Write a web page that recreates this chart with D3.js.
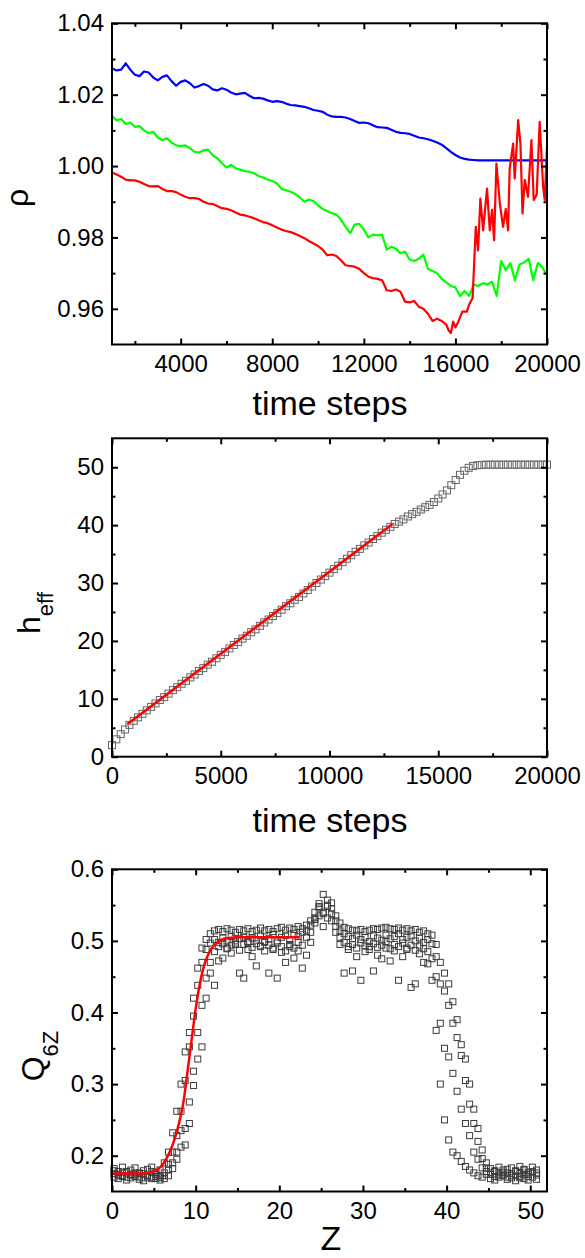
<!DOCTYPE html>
<html>
<head>
<meta charset="utf-8">
<script src="https://cdn.jsdelivr.net/npm/d3@7"></script>
<style>
  body { margin: 0; background: #fff; }
</style>
</head>
<body>
<svg id="chart" width="585" height="1258"></svg>
<script>
// ---- panel 1: density vs time steps ----
const tSteps = [1000,1200,1400,1600,1800,2000,2200,2400,2600,2800,3000,3200,3400,3600,3800,4000,4200,4400,4600,4800,
  5000,5200,5400,5600,5800,6000,6200,6400,6600,6800,7000,7200,7400,7600,7800,8000,8200,8400,8600,8800,
  9000,9200,9400,9600,9800,10000,10200,10400,10600,10800,11000,11200,11400,11600,11800,12000,12200,12400,12600,12800,
  13000,13200,13400,13600,13800,14000,14200,14400,14600,14800,15000,15200,15400,15600,15800,16000,16200,16400,16600,16800,
  17000,17200,17400,17600,17800,18000,18200,18400,18600,18800,19000,19200,19400,19600,19800,20000];

const rhoBlue = [1.0274,1.0268,1.0270,1.0288,1.0270,1.0256,1.0252,1.0265,1.0262,1.0248,
  1.0240,1.0250,1.0254,1.0238,1.0225,1.0236,1.0240,1.0232,1.0220,1.0224,
  1.0230,1.0225,1.0215,1.0212,1.0218,1.0214,1.0206,1.0201,1.0203,1.0205,
  1.0197,1.0190,1.0191,1.0189,1.0184,1.0180,1.0182,1.0180,1.0175,1.0171,
  1.0170,1.0168,1.0166,1.0162,1.0157,1.0155,1.0152,1.0144,1.0139,1.0138,
  1.0138,1.0136,1.0132,1.0126,1.0121,1.0122,1.0120,1.0114,1.0109,1.0108,
  1.0107,1.0102,1.0096,1.0093,1.0092,1.0090,1.0085,1.0080,1.0078,1.0075,
  1.0071,1.0066,1.0060,1.0050,1.0040,1.0031,1.0024,1.0020,1.0018,1.0017,
  1.0016,1.0016,1.0016,1.0016,1.0016,1.0016,1.0016,1.0016,1.0016,1.0016,
  1.0016,1.0016,1.0016,1.0016,1.0016,1.0016];

const rhoGreen = [1.0140,1.0128,1.0132,1.0118,1.0122,1.0110,1.0112,1.0100,1.0092,1.0096,
  1.0080,1.0072,1.0078,1.0066,1.0058,1.0056,1.0058,1.0050,1.0040,1.0038,
  1.0044,1.0046,1.0030,1.0022,1.0008,0.9996,1.0003,0.9994,0.9990,0.9986,
  0.9984,0.9980,0.9972,0.9968,0.9962,0.9958,0.9952,0.9936,0.9932,0.9928,
  0.9922,0.9912,0.9900,0.9906,0.9902,0.9890,0.9880,0.9874,0.9868,0.9864,
  0.9850,0.9830,0.9812,0.9836,0.9838,0.9822,0.9800,0.9808,0.9806,0.9808,
  0.9766,0.9774,0.9768,0.9756,0.9760,0.9738,0.9734,0.9740,0.9752,0.9712,
  0.9706,0.9700,0.9684,0.9674,0.9664,0.9660,0.9636,0.9650,0.9636,0.9668,
  0.9664,0.9672,0.9668,0.9676,0.9636,0.9734,0.9708,0.9728,0.9680,0.9724,
  0.9730,0.9740,0.9680,0.9728,0.9716,0.9694];

// red has a finer, irregular sampling in its noisy tail
const redT = [1000,1200,1400,1600,1800,2000,2200,2400,2600,2800,3000,3200,3400,3600,3800,4000,4200,4400,4600,4800,
  5000,5200,5400,5600,5800,6000,6200,6400,6600,6800,7000,7200,7400,7600,7800,8000,8200,8400,8600,8800,
  9000,9200,9400,9600,9800,10000,10200,10400,10600,10800,11000,11200,11400,11600,11800,12000,12200,12400,12600,12800,
  13000,13200,13400,13600,13800,14000,14200,14400,14600,14800,15000,15200,15400,15600,
  15700,15800,15900,16000,16100,16300,16500,16600,16750,
  16890,16990,17090,17210,17380,17500,17600,17690,17790,17940,18080,18200,18300,18370,18520,18590,
  18740,18840,18930,19030,19170,19320,19420,19550,19680,19830,19900,20000];
const rhoRed = [0.9982,0.9976,0.9970,0.9962,0.9960,0.9960,0.9956,0.9950,0.9944,0.9943,
  0.9944,0.9936,0.9930,0.9930,0.9927,0.9920,0.9914,0.9910,0.9910,0.9908,
  0.9900,0.9895,0.9894,0.9888,0.9882,0.9880,0.9876,0.9870,0.9864,0.9862,
  0.9858,0.9854,0.9848,0.9843,0.9840,0.9834,0.9828,0.9822,0.9818,0.9815,
  0.9810,0.9804,0.9798,0.9790,0.9783,0.9776,0.9766,0.9750,0.9752,0.9748,
  0.9736,0.9722,0.9720,0.9718,0.9712,0.9700,0.9690,0.9686,0.9684,0.9680,
  0.9652,0.9650,0.9654,0.9648,0.9620,0.9618,0.9622,0.9606,0.9600,0.9586,
  0.9566,0.9572,0.9566,0.9556,
  0.9540,0.9532,0.9564,0.9548,0.9560,0.9592,0.9592,0.9612,0.9630,
  0.9830,0.9764,0.9909,0.9820,0.9937,0.9820,0.9877,0.9792,1.0007,0.9895,0.9830,0.9880,0.9820,0.9993,1.0063,0.9965,
  1.0129,1.0063,0.9867,0.9961,0.9914,1.0073,0.9905,0.9920,1.0124,0.9942,0.9905,1.0054];

const rhoXMajor = [4000, 8000, 12000, 16000, 20000];
const rhoXMinor = [2000, 6000, 10000, 14000, 18000];
const rhoYMajor = [0.96, 0.98, 1.00, 1.02, 1.04];
const rhoYMinor = [0.97, 0.99, 1.01, 1.03];

// ---- panel 2: effective height ----
const heffT = [0,200,400,600,800].concat(tSteps);
const heff = [2.0,3.0,3.9,4.7,5.5,
  6.2,6.8,7.4,8.0,8.6,9.2,9.8,10.3,10.9,11.5,
  12.0,12.6,13.1,13.7,14.2,14.8,15.3,15.9,16.4,17.0,
  17.6,18.1,18.7,19.3,19.8,20.4,20.9,21.5,22.0,22.6,
  23.2,23.7,24.3,24.8,25.4,26.0,26.5,27.1,27.6,28.2,
  28.8,29.4,30.0,30.6,31.2,31.8,32.4,33.0,33.6,34.2,
  34.8,35.4,35.9,36.5,37.0,37.6,38.1,38.7,39.2,39.7,
  40.2,40.6,41.0,41.5,41.9,42.3,42.7,43.1,43.5,44.0,
  44.6,45.3,46.0,46.9,47.8,48.7,49.4,49.9,50.2,50.35,
  50.4,50.45,50.45,50.45,50.45,50.45,50.45,50.45,50.45,50.45,50.45,50.45,50.45,50.45,50.45,50.45];
const heffFitT = [700, 12900];
const heffFit = [5.6, 40.2];
const heffXMajor = [0, 5000, 10000, 15000, 20000];
const heffXMinor = [2500, 7500, 12500, 17500];
const heffYMajor = [0, 10, 20, 30, 40, 50];
const heffYMinor = [5, 15, 25, 35, 45];

// ---- panel 3: Q6Z profiles along Z ----
const zGrid = [0.25,0.75,1.25,1.75,2.25,2.75,3.25,3.75,4.25,4.75,5.25,5.75,
  6.25,6.75,7.25,7.75,8.25,8.75,9.25,9.75,10.25,10.75,11.25,11.75,
  12.25,12.75,13.25,13.75,14.25,14.75,15.25,15.75,16.25,16.75,17.25,17.75,18.25,18.75,19.25,19.75,20.25,20.75,21.25,21.75,22.25,22.75,
  23.25,23.75,24.25,24.75,25.25,25.75,26.25,26.75,27.25,
  27.75,28.25,28.75,29.25,29.75,30.25,30.75,31.25,31.75,32.25,32.75,33.25,33.75,34.25,34.75,35.25,35.75,36.25,36.75,37.25,37.75,
  38.25,38.75,39.25,39.75,40.25,40.75,41.25,41.75,42.25,42.75,43.25,43.75,44.25,44.75,
  45.25,45.75,46.25,46.75,47.25,47.75,48.25,48.75,49.25,49.75,50.25,50.75];

const q6zA = [0.182,0.178,0.184,0.176,0.180,0.183,0.175,0.179,0.181,0.184,0.177,0.180,
  0.190,0.205,0.232,0.262,0.300,0.345,0.372,0.420,0.462,0.490,0.502,0.510,
  0.514,0.516,0.513,0.517,0.515,0.512,0.516,0.514,0.517,0.513,0.515,0.518,0.514,0.516,0.513,0.517,0.519,0.515,0.518,0.516,0.520,0.517,
  0.522,0.528,0.540,0.552,0.565,0.557,0.553,0.535,0.525,
  0.519,0.517,0.515,0.514,0.516,0.513,0.515,0.517,0.516,0.518,0.519,0.517,0.516,0.518,0.515,0.517,0.514,0.516,0.512,0.514,0.510,
  0.508,0.495,0.470,0.455,0.440,0.415,0.390,0.355,0.335,0.300,0.265,0.238,0.208,0.190,
  0.182,0.178,0.184,0.180,0.176,0.183,0.179,0.185,0.181,0.177,0.184,0.180];
const q6zB = [0.175,0.172,0.177,0.170,0.174,0.171,0.176,0.169,0.173,0.170,0.168,0.172,
  0.176,0.188,0.205,0.228,0.262,0.305,0.352,0.395,0.438,0.470,0.488,0.497,
  0.502,0.498,0.504,0.500,0.506,0.497,0.503,0.505,0.499,0.504,0.501,0.507,0.498,0.503,0.509,0.500,0.505,0.508,0.502,0.510,0.506,0.512,
  0.515,0.522,0.532,0.546,0.540,0.548,0.538,0.528,0.514,
  0.510,0.506,0.503,0.508,0.502,0.505,0.499,0.507,0.504,0.501,0.508,0.503,0.506,0.510,0.502,0.505,0.507,0.500,0.504,0.498,0.502,
  0.496,0.478,0.440,0.430,0.410,0.385,0.365,0.340,0.305,0.272,0.245,0.220,0.196,0.183,
  0.174,0.171,0.176,0.173,0.170,0.175,0.172,0.169,0.174,0.171,0.177,0.173];
const q6zC = [0.170,0.168,0.172,0.166,0.169,0.173,0.167,0.165,0.170,0.168,0.171,0.166,
  0.168,0.172,0.182,0.195,0.212,0.238,0.275,0.318,0.335,0.352,0.420,0.455,
  0.438,0.472,0.476,0.490,0.483,0.495,0.455,0.448,0.488,0.478,0.465,0.492,0.486,0.455,0.490,0.448,0.484,0.470,0.492,0.476,0.486,0.462,
  0.480,0.498,0.530,0.535,0.520,0.532,0.528,0.512,0.495,
  0.455,0.488,0.458,0.478,0.445,0.485,0.492,0.458,0.480,0.475,0.490,0.472,0.486,0.445,0.478,0.488,0.435,0.440,0.482,0.470,0.468,
  0.445,0.375,0.300,0.250,0.222,0.205,0.200,0.192,0.185,0.180,0.176,0.172,0.170,0.174,
  0.168,0.166,0.170,0.172,0.167,0.169,0.165,0.171,0.168,0.166,0.170,0.167];
const q6zD = [0.179,0.174,0.171,0.178,0.173,0.176,0.170,0.175,0.172,0.178,0.174,0.170,
  0.172,0.180,0.190,0.205,0.235,0.215,0.245,0.298,0.372,0.410,0.448,0.470,
  0.485,0.492,0.496,0.489,0.494,0.500,0.487,0.495,0.498,0.491,0.496,0.493,0.499,0.494,0.488,0.497,0.492,0.486,0.495,0.490,0.498,0.494,
  0.505,0.512,0.525,0.548,0.538,0.550,0.545,0.520,0.505,
  0.498,0.492,0.495,0.490,0.497,0.493,0.488,0.496,0.491,0.494,0.499,0.489,0.495,0.492,0.497,0.490,0.494,0.487,0.493,0.489,0.485,
  0.475,0.450,0.385,0.350,0.338,0.315,0.290,0.265,0.245,0.228,0.205,0.195,0.183,0.178,
  0.176,0.179,0.173,0.177,0.181,0.172,0.178,0.175,0.180,0.174,0.178,0.176];

const q6zFitZ = [0, 2, 4, 5, 5.5, 6, 6.5, 7, 7.5, 8, 8.5, 9, 9.5, 10, 10.5, 11, 11.5, 12, 12.5, 13, 13.5, 14, 15, 17, 20, 22.5];
const q6zFit  = [0.175, 0.175, 0.1755, 0.178, 0.181, 0.187, 0.196, 0.208, 0.224, 0.245, 0.272, 0.315, 0.360, 0.405, 0.440, 0.465, 0.481, 0.491, 0.497, 0.501, 0.503, 0.504, 0.505, 0.505, 0.505, 0.505];

const zXMajor = [0, 10, 20, 30, 40, 50];
const zXMinor = [5, 15, 25, 35, 45];
const qYMajor = [0.2, 0.3, 0.4, 0.5, 0.6];
const qYMinor = [0.25, 0.35, 0.45, 0.55];

// ---- drawing ----
const FONT = '"Liberation Sans", Arial, Helvetica, sans-serif';
const left = 112, right = 547;
const svg = d3.select('#chart');

function axes(x, y, xMajor, xMinor, yMajor, yMinor, xFmt, yFmt) {
  const [x0, x1] = x.range();
  const [y0, y1] = y.range();
  const put = (axis, tx, ty) => {
    const g = svg.append('g')
      .attr('transform', `translate(${tx},${ty})`)
      .call(axis);
    g.select('.domain').remove();
    g.selectAll('line').attr('stroke', '#000').attr('stroke-width', 2);
    g.attr('font-size', 24).attr('font-family', FONT);
    g.selectAll('text').attr('fill', '#000');
  };
  put(d3.axisBottom(x).tickValues(xMajor).tickSize(-6).tickPadding(10).tickFormat(xFmt), 0, y0);
  put(d3.axisBottom(x).tickValues(xMinor).tickSize(-3.5).tickFormat(''), 0, y0);
  put(d3.axisTop(x).tickValues(xMajor).tickSize(-6).tickFormat(''), 0, y1);
  put(d3.axisTop(x).tickValues(xMinor).tickSize(-3.5).tickFormat(''), 0, y1);
  put(d3.axisLeft(y).tickValues(yMajor).tickSize(-6).tickPadding(8).tickFormat(yFmt), x0, 0);
  put(d3.axisLeft(y).tickValues(yMinor).tickSize(-3.5).tickFormat(''), x0, 0);
  put(d3.axisRight(y).tickValues(yMajor).tickSize(-6).tickFormat(''), x1, 0);
  put(d3.axisRight(y).tickValues(yMinor).tickSize(-3.5).tickFormat(''), x1, 0);
  svg.append('rect')
    .attr('x', x0).attr('y', y1)
    .attr('width', x1 - x0).attr('height', y0 - y1)
    .attr('fill', 'none').attr('stroke', '#000').attr('stroke-width', 2);
}

function xTitle(text, cx, baseline) {
  svg.append('text')
    .attr('x', cx).attr('y', baseline)
    .attr('text-anchor', 'middle')
    .attr('font-family', FONT).attr('font-size', 34)
    .text(text);
}

function yTitle(main, sub, bx, cy, size, subShift) {
  const t = svg.append('text')
    .attr('transform', `translate(${bx},${cy}) rotate(-90)`)
    .attr('text-anchor', 'middle')
    .attr('font-family', FONT).attr('font-size', size);
  t.append('tspan').text(main);
  if (sub) t.append('tspan').attr('font-size', 22).attr('dy', subShift).text(sub);
}

// panel 1
const x1s = d3.scaleLinear().domain([1000, 20000]).range([left, right]);
const y1s = d3.scaleLinear().domain([0.95, 1.04]).range([344.5, 23.3]);
const line1 = (ts) => d3.line().x((d, i) => x1s(ts[i])).y(d => y1s(d));

[[rhoBlue, tSteps, '#0000ff'], [rhoGreen, tSteps, '#00ff00'], [rhoRed, redT, '#ff0000']].forEach(([vals, ts, c]) => {
  svg.append('path')
    .datum(vals)
    .attr('d', line1(ts))
    .attr('fill', 'none')
    .attr('stroke', c)
    .attr('stroke-width', 2.2)
    .attr('stroke-linejoin', 'round');
});
axes(x1s, y1s, rhoXMajor, rhoXMinor, rhoYMajor, rhoYMinor, d3.format('d'), d3.format('.2f'));
xTitle('time steps', 330, 415);
yTitle('\u03C1', null, 28, 198, 32, 0);

// panel 2
const x2s = d3.scaleLinear().domain([0, 20000]).range([left, right]);
const y2s = d3.scaleLinear().domain([0, 55]).range([756.7, 438.3]);
const sq2 = 7;
svg.append('g').selectAll('rect')
  .data(heff)
  .join('rect')
  .attr('x', (d, i) => x2s(heffT[i]) - sq2 / 2)
  .attr('y', d => y2s(d) - sq2 / 2)
  .attr('width', sq2).attr('height', sq2)
  .attr('fill', 'none').attr('stroke', '#666').attr('stroke-width', 1);
svg.append('path')
  .datum(heffFit)
  .attr('d', d3.line().x((d, i) => x2s(heffFitT[i])).y(d => y2s(d)))
  .attr('fill', 'none').attr('stroke', '#ff0000').attr('stroke-width', 2.5);
axes(x2s, y2s, heffXMajor, heffXMinor, heffYMajor, heffYMinor, d3.format('d'), d3.format('d'));
xTitle('time steps', 330, 832);
yTitle('h', 'eff', 40, 613, 32, 13);

// panel 3
const x3s = d3.scaleLinear().domain([0, 52]).range([left, right]);
const y3s = d3.scaleLinear().domain([0.15, 0.6]).range([1191.5, 869.3]);
const sq3 = 6;
[q6zA, q6zB, q6zC, q6zD].forEach(prof => {
  svg.append('g').selectAll('rect')
    .data(prof)
    .join('rect')
    .attr('x', (d, i) => x3s(zGrid[i]) - sq3 / 2)
    .attr('y', d => y3s(d) - sq3 / 2)
    .attr('width', sq3).attr('height', sq3)
    .attr('fill', 'none').attr('stroke', '#3c3c3c').attr('stroke-width', 1);
});
svg.append('path')
  .datum(q6zFit)
  .attr('d', d3.line().x((d, i) => x3s(q6zFitZ[i])).y(d => y3s(d)).curve(d3.curveMonotoneX))
  .attr('fill', 'none').attr('stroke', '#ff0000').attr('stroke-width', 2.5);
axes(x3s, y3s, zXMajor, zXMinor, qYMajor, qYMinor, d3.format('d'), d3.format('.1f'));
xTitle('Z', 331, 1250);
yTitle('Q', '6Z', 44, 1056, 32, 14);
</script>
</body>
</html>
